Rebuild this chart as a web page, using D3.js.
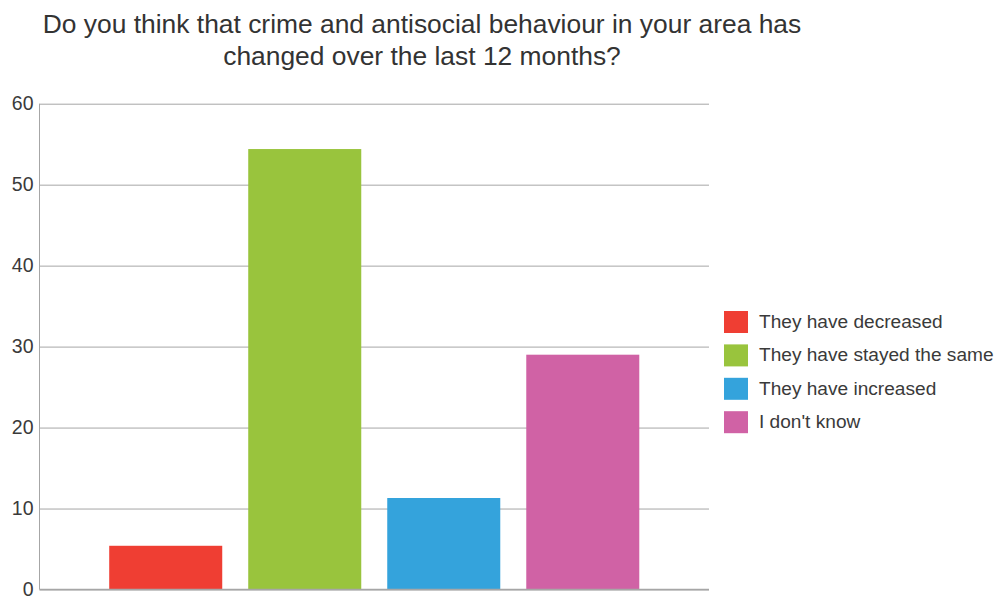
<!DOCTYPE html>
<html>
<head>
<meta charset="utf-8">
<script src="https://cdn.jsdelivr.net/npm/d3@7"></script>
<style>
html,body{margin:0;padding:0;background:#fff;}
svg{display:block;font-family:"Liberation Sans",Arial,sans-serif;}
</style>
</head>
<body>
<svg id="chart" width="995" height="596"></svg>
<script>
const titleLines = ["Do you think that crime and antisocial behaviour in your area has", "changed over the last 12 months?"];
const categories = [""];
const seriesNames = ["They have decreased", "They have stayed the same", "They have increased", "I don't know"];
const seriesValues = [5.4, 54.4, 11.3, 29.0];
const seriesColors = ["#EF3E33", "#99C43D", "#34A3DC", "#D062A5"];
const yTicks = [0, 10, 20, 30, 40, 50, 60];

const svg = d3.select("#chart");
const plot = {left: 39.5, right: 709, top: 103.7, bottom: 589.5};

const y = d3.scaleLinear().domain([0, 60]).range([plot.bottom, plot.top]);
const x0 = d3.scaleBand().domain(categories).range([plot.left, plot.right]).paddingInner(0).paddingOuter(0.102);
const x1 = d3.scaleBand().domain(seriesNames).range([0, x0.bandwidth()]).paddingInner(0.187).paddingOuter(0.0935);

// title
svg.append("g").selectAll("text").data(titleLines).join("text")
  .attr("x", 422).attr("y", (d, i) => 33.3 + i * 31.7)
  .attr("text-anchor", "middle")
  .attr("font-size", 26.4).attr("fill", "#333")
  .text(d => d);

// gridlines
const yAxis = d3.axisLeft(y).tickValues(yTicks).tickSize(-(plot.right - plot.left)).tickPadding(6).tickFormat(d3.format("d"));
const gy = svg.append("g").attr("transform", `translate(${plot.left},0)`).call(yAxis);
gy.select(".domain").remove();
gy.selectAll(".tick line").attr("stroke", "#a6a6a6").attr("stroke-width", 1);
gy.selectAll(".tick text").attr("font-size", 19.5).attr("fill", "#3a3a3a").attr("font-family", "Liberation Sans, Arial, sans-serif");

// y axis line
svg.append("line").attr("x1", plot.left).attr("x2", plot.left).attr("y1", plot.top).attr("y2", plot.bottom)
  .attr("stroke", "#a6a6a6").attr("stroke-width", 1);

// bars
const g = svg.append("g");
categories.forEach(cat => {
  g.selectAll("rect.bar").data(seriesNames.map((n, i) => ({name: n, value: seriesValues[i], color: seriesColors[i]})))
    .join("rect").attr("class", "bar")
    .attr("x", d => x0(cat) + x1(d.name))
    .attr("width", x1.bandwidth())
    .attr("y", d => y(d.value))
    .attr("height", d => y(0) - y(d.value))
    .attr("fill", d => d.color);
});

// baseline
svg.append("line").attr("x1", plot.left).attr("x2", plot.right).attr("y1", y(0)).attr("y2", y(0))
  .attr("stroke", "#a6a6a6").attr("stroke-width", 1.5);

// legend
const legend = svg.append("g").attr("transform", "translate(724,311)");
const li = legend.selectAll("g").data(seriesNames).join("g")
  .attr("transform", (d, i) => `translate(0,${i * 33.4})`);
li.append("rect").attr("width", 24).attr("height", 22).attr("fill", (d, i) => seriesColors[i]);
li.append("text").attr("x", 35).attr("y", 17).attr("font-size", 19.1).attr("fill", "#3a3a3a").text(d => d);
</script>
</body>
</html>
